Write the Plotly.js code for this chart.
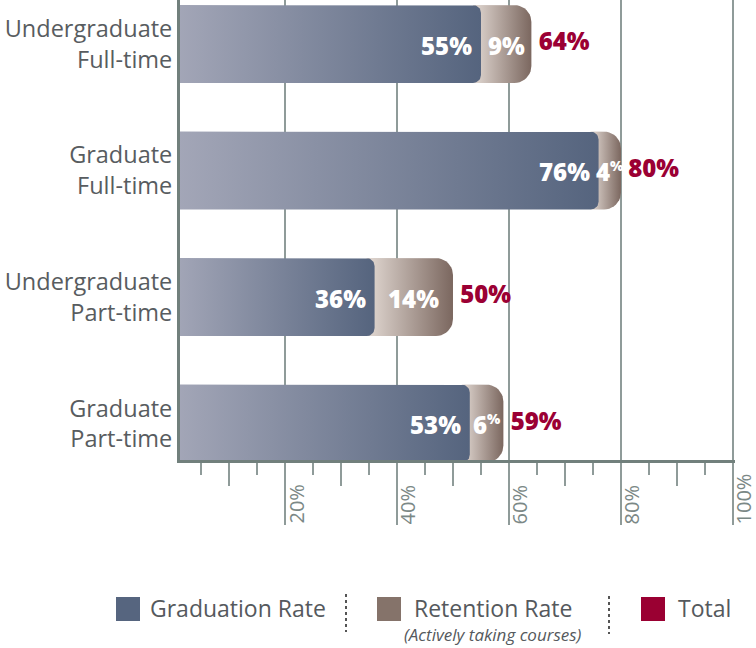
<!DOCTYPE html>
<html>
<head>
<meta charset="utf-8">
<script src="https://cdn.plot.ly/plotly-3.0.1.min.js"></script>
<style>html,body{margin:0;padding:0;background:#fff;}#chart{width:756px;height:648px;}</style>
</head>
<body>
<div id="chart"></div>
<script>
// ---------------- data ----------------
const categories = ['Undergraduate<br>Full-time', 'Graduate<br>Full-time', 'Undergraduate<br>Part-time', 'Graduate<br>Part-time'];
const graduationRate = [55, 76, 36, 53];
const retentionRate = [9, 4, 14, 6];
const totalRate = [64, 80, 50, 59];
const gridTickVals = [20, 40, 60, 80, 100];
const gridTickText = ['20%', '40%', '60%', '80%', '100%'];
const midTickVals = [10, 30, 50, 70, 90];
const legendLabels = ['Graduation Rate', 'Retention Rate', 'Total'];
const legendNote = '(Actively taking courses)';

// ---------------- styling / layout constants ----------------
const FONT = 'Open Sans, sans-serif';
const W = 756, H = 648;
const M = {l: 180, r: 21, t: 0, b: 188};
const plotW = W - M.l - M.r, plotH = H - M.t - M.b;
const xRange = [1.25, 100.36];
const yRange = [3.288, -0.348];
const pxPerX = plotW / (xRange[1] - xRange[0]);
const pxPerY = plotH / (yRange[0] - yRange[1]);
const half = 0.308;
const gradColors = [[0, '#a4a7b8'], [1, '#55647e']];
const retColors = [[0, '#e2d9d3'], [1, '#7b675f']];
const axisCol = '#71807c', gridCol = '#8f9b99';
const idx = categories.map((c, i) => i);

function roundedBar(x0, x1, yc, rPx) {
  const rx = rPx / pxPerX, ry = rPx / pxPerY, n = 10;
  const xs = [x0], ys = [yc - half];
  for (let k = 0; k <= n; k++) {
    const t = -Math.PI / 2 + (Math.PI / 2) * k / n;
    xs.push(x1 - rx + rx * Math.cos(t)); ys.push(yc - half + ry + ry * Math.sin(t));
  }
  for (let k = 0; k <= n; k++) {
    const t = (Math.PI / 2) * k / n;
    xs.push(x1 - rx + rx * Math.cos(t)); ys.push(yc + half - ry + ry * Math.sin(t));
  }
  xs.push(x0); ys.push(yc + half);
  xs.push(x0); ys.push(yc - half);
  return {xs, ys};
}

const traces = [];
const gradR = 8, retR = 17;
// retention bars (behind)
idx.forEach(i => {
  const start = graduationRate[i] - gradR / pxPerX;
  const b = roundedBar(start, graduationRate[i] + retentionRate[i], i, retR);
  traces.push({type: 'scatter', x: b.xs, y: b.ys, mode: 'lines', line: {width: 0}, fill: 'toself',
    fillgradient: {type: 'horizontal', colorscale: retColors}, hoverinfo: 'skip', showlegend: false});
});
// graduation bars
idx.forEach(i => {
  const b = roundedBar(0, graduationRate[i], i, gradR);
  traces.push({type: 'scatter', x: b.xs, y: b.ys, mode: 'lines', line: {width: 0}, fill: 'toself',
    fillgradient: {type: 'horizontal', colorscale: gradColors}, hoverinfo: 'skip', showlegend: false});
});
// totals text (invisible marker gives the small gap after the bar end)
traces.push({type: 'scatter', xaxis: 'x2', x: totalRate, y: idx, mode: 'markers+text',
  marker: {size: 10, color: 'rgba(0,0,0,0)'},
  text: totalRate.map(v => v + '%'), textposition: 'middle right', cliponaxis: false,
  textfont: {family: FONT, size: 24, color: '#9b0034', weight: 800}, hoverinfo: 'skip', showlegend: false});

const annotations = [];
idx.forEach(i => {
  annotations.push({x: graduationRate[i], y: i, xref: 'x', yref: 'y', xanchor: 'right', xshift: -8, yshift: -1, borderpad: 0,
    text: graduationRate[i] + '%', showarrow: false, font: {family: FONT, size: 24, color: '#ffffff', weight: 800}});
  const rt = retentionRate[i] < 8
    ? retentionRate[i] + '<sup><span style="font-size:14px">%</span></sup>'
    : retentionRate[i] + '%';
  annotations.push({x: graduationRate[i] + retentionRate[i] / 2, y: i, xref: 'x', yref: 'y', xanchor: 'center', yshift: -1, borderpad: 0,
    text: rt, showarrow: false, font: {family: FONT, size: 24, color: '#ffffff', weight: 800}});
});
gridTickVals.forEach((v, k) => {
  annotations.push({x: v, y: 0, xref: 'x', yref: 'paper', xanchor: 'center', yanchor: 'bottom', borderpad: 0,
    xshift: 11, yshift: -65, textangle: -90, text: gridTickText[k], showarrow: false,
    font: {family: FONT, size: 20, color: '#7b8886'}});
});

// custom legend
const px = v => (v - M.l) / plotW;
const py = v => (M.t + plotH - v) / plotH;
const legendSq = [[116, '#56657f'], [377, '#85736a'], [641, '#9a0032']];
const legendTx = [148, 412, 676];
const shapes = [];
legendSq.forEach((s, k) => {
  shapes.push({type: 'rect', xref: 'paper', yref: 'paper', x0: px(s[0]), x1: px(s[0] + 24),
    y0: py(597), y1: py(621), fillcolor: s[1], line: {width: 0}});
  annotations.push({xref: 'paper', yref: 'paper', x: px(legendTx[k]), y: py(608), xanchor: 'left', yanchor: 'middle',
    text: legendLabels[k], showarrow: false, font: {family: FONT, size: 23, color: '#55595d'}});
});
annotations.push({xref: 'paper', yref: 'paper', x: px(493), y: py(634), xanchor: 'center', yanchor: 'middle',
  text: '<i>' + legendNote + '</i>', showarrow: false, font: {family: FONT, size: 17, color: '#55595d'}});
[[346, 594, 632], [609, 596, 634]].forEach(s => {
  shapes.push({type: 'line', xref: 'paper', yref: 'paper', x0: px(s[0]), x1: px(s[0]), y0: py(s[1]), y1: py(s[2]),
    line: {color: '#555555', width: 2, dash: 'dot'}});
});

const layout = {
  width: W, height: H, margin: M, paper_bgcolor: '#ffffff', plot_bgcolor: '#ffffff',
  showlegend: false, hovermode: false, font: {family: FONT},
  xaxis: {range: xRange, showline: true, linewidth: 3, linecolor: axisCol, zeroline: false,
    tickmode: 'array', tickvals: gridTickVals, ticks: 'outside', ticklen: 62, tickwidth: 1.5, tickcolor: gridCol,
    showticklabels: false, showgrid: true, gridcolor: gridCol, gridwidth: 1.5,
    minor: {tickmode: 'linear', tick0: 0, dtick: 5, ticks: 'outside', ticklen: 12, tickwidth: 1.5, tickcolor: gridCol, showgrid: false},
    fixedrange: true},
  xaxis2: {overlaying: 'x', anchor: 'y', side: 'bottom', range: xRange, showline: true, linewidth: 3, linecolor: axisCol,
    zeroline: false, tickmode: 'array', tickvals: midTickVals, ticks: 'outside', ticklen: 23, tickwidth: 1.5,
    tickcolor: gridCol, showticklabels: false, showgrid: false, fixedrange: true},
  yaxis: {range: yRange, showline: true, linewidth: 3, linecolor: axisCol, zeroline: false, showgrid: false,
    tickmode: 'array', tickvals: idx, ticktext: categories, ticks: '',
    tickfont: {family: FONT, size: 23.5, color: '#585c60'}, fixedrange: true},
  shapes: shapes, annotations: annotations
};

Plotly.newPlot('chart', traces, layout, {staticPlot: true, displayModeBar: false});
</script>
</body>
</html>
